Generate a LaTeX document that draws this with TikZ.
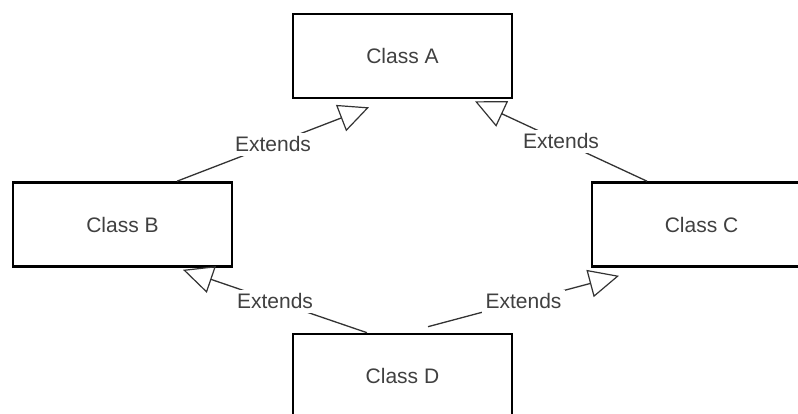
\documentclass[tikz,border=0pt]{standalone}
\usepackage{fontspec}
\setmainfont{Liberation Sans}
\usetikzlibrary{arrows.meta}

\begin{document}
\begin{tikzpicture}[x=1pt, y=-1pt]
\tikzset{classe/.style={draw=black, line width=2.6pt, minimum width=219pt, minimum height=84pt, text=black!75, font=\fontsize{21pt}{25pt}\selectfont}}
\tikzset{herite/.style={draw=black!80, line width=1.3pt, -{Triangle[open, length=30pt, width=28pt, line width=1.2pt]}}}
\tikzset{etiquette/.style={midway, fill=white, inner sep=4pt, text=black!75, font=\fontsize{21pt}{25pt}\selectfont}}
\clip (0, 0) rectangle (798, 414);
\fill[white] (0, 0) rectangle (798, 414);
\node[classe] (A) at (402.5, 56) {Class A};
\node[classe] (B) at (122.5, 224.5) {Class B};
\node[classe] (C) at (701.5, 224.5) {Class C};
\node[classe] (D) at (402.5, 376) {Class D};
\draw[herite] ([xshift=54.5pt]B.north) -- ([xshift=-33.5pt, yshift=-8pt]A.south) node[etiquette] (E1) {Extends};
\draw[herite] ([xshift=-54.5pt]C.north) -- ([xshift=72.5pt, yshift=-2pt]A.south) node[etiquette] (E2) {Extends};
\draw[herite] ([xshift=-35.5pt]D.north) -- ([xshift=60.5pt, yshift=-2pt]B.south) node[etiquette] (E3) {Extends};
\draw[herite] ([xshift=25.5pt, yshift=6pt]D.north) -- ([xshift=-82.5pt, yshift=-8pt]C.south) node[etiquette] (E4) {Extends};
\end{tikzpicture}
\end{document}
